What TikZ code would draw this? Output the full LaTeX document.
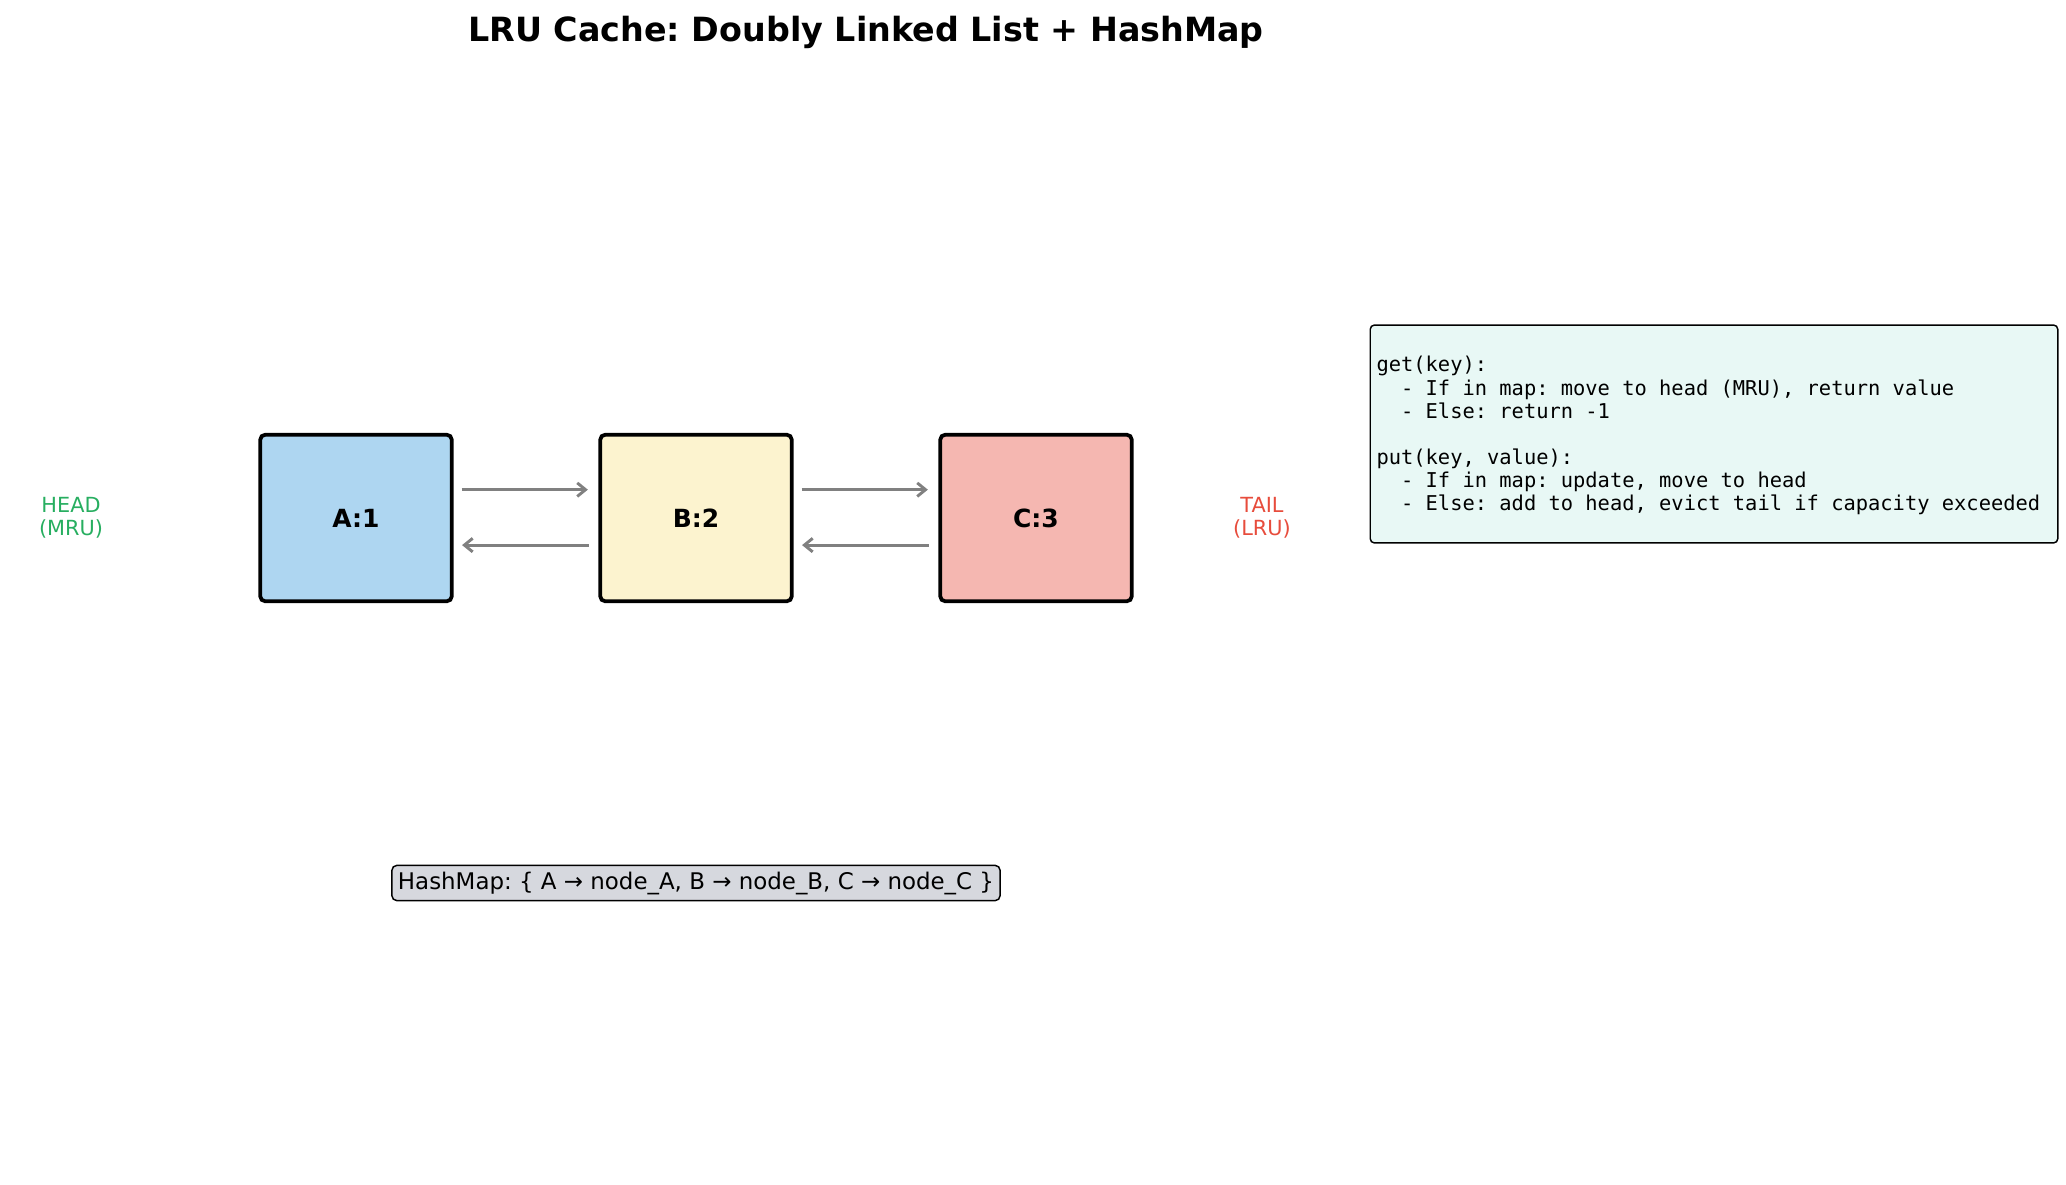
\documentclass[tikz,border=0pt]{standalone}
\usepackage{fontspec}
\setmainfont{DejaVu Sans}
\setmonofont{DejaVu Sans Mono}
\usetikzlibrary{arrows.meta}
\frenchspacing

\definecolor{cellA}{HTML}{AED6F1}
\definecolor{cellB}{HTML}{FCF3CF}
\definecolor{cellC}{HTML}{F5B7B1}
\definecolor{headgreen}{HTML}{27AE60}
\definecolor{tailred}{HTML}{E74C3C}
\definecolor{opsfill}{HTML}{E8F8F5}
\definecolor{mapfill}{HTML}{D6D8DE}

\newcommand\codefont{\fontsize{9.8}{11.1}\selectfont\ttfamily}
\newcommand\monospaces{\spaceskip 0.602em\relax}

\begin{document}
\begin{tikzpicture}[x=0.48pt,y=-0.48pt,
  cell/.style={draw=black,line width=1.8pt,rounded corners=2.5pt,
    minimum width=92pt,minimum height=80pt,
    font=\fontsize{12}{14}\selectfont\bfseries},
  link/.style={draw=gray,line width=1.4pt,
    -{Straight Barb[length=4pt,width=6.5pt]}},
  endlabel/.style={font=\fontsize{10}{10.8}\selectfont,align=center},
  codebox/.style={draw=black,line width=0.7pt,rounded corners=2pt,fill=opsfill,
    minimum width=330pt,minimum height=104.6pt,inner xsep=3pt,
    text width=324pt,align=left,font=\codefont},
  mapbox/.style={draw=black,line width=0.7pt,rounded corners=2.5pt,fill=mapfill,
    minimum width=292pt,minimum height=17pt,inner sep=1pt,
    font=\fontsize{11}{13}\selectfont}]
\useasboundingbox (0,0) rectangle (2066,1185);

\node[font=\fontsize{16}{19}\selectfont\bfseries] (title) at (866,32)
  {LRU Cache: Doubly Linked List + HashMap};

% list cells
\node[cell,fill=cellA] (A) at (356,518) {A:1};
\node[cell,fill=cellB] (B) at (696,518) {B:2};
\node[cell,fill=cellC] (C) at (1036,518) {C:3};

% next / prev pointers
\foreach \a/\b in {A/B,B/C}{
  \draw[link,shorten <=3.8pt,shorten >=5pt] ([yshift=13.6pt]\a.east) -- ([yshift=13.6pt]\b.west);
  \draw[link,shorten <=4.6pt,shorten >=4pt] ([yshift=-13pt]\b.west) -- ([yshift=-13pt]\a.east);
}

\node[endlabel,text=headgreen] (head) at (71,518) {HEAD\\(MRU)};
\node[endlabel,text=tailred] (tail) at (1262,518) {TAIL\\(LRU)};

\node[codebox] (ops) at (1714,434) {\monospaces\mbox{}\\
get(key):\\
\phantom{xx}- If in map: move to head (MRU), return value\\
\phantom{xx}- Else: return -1\\
\mbox{}\\
put(key, value):\\
\phantom{xx}- If in map: update, move to head\\
\phantom{xx}- Else: add to head, evict tail if capacity exceeded\\[-7pt]
\mbox{}};

\node[mapbox] (map) at (696,883)
  {HashMap: \{ A → node\_A, B → node\_B, C → node\_C \}};
\end{tikzpicture}
\end{document}
